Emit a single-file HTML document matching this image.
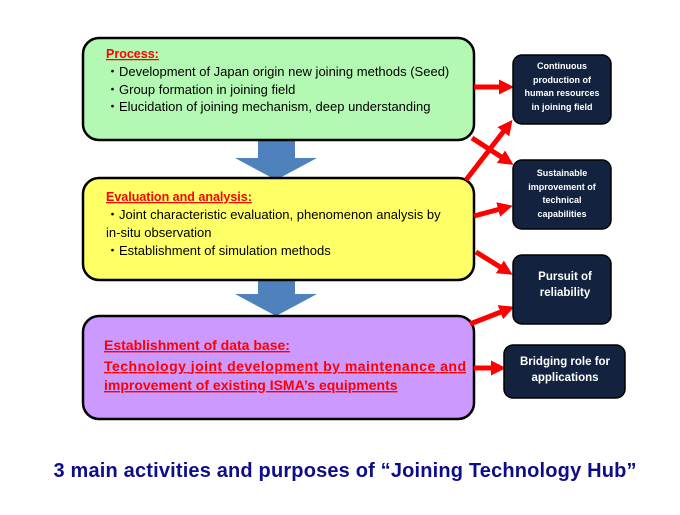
<!DOCTYPE html>
<html><head><meta charset="utf-8"><style>
body{margin:0;background:#fff}
svg text{font-family:"Liberation Sans","DejaVu Sans",sans-serif}
</style></head><body>
<svg width="680" height="510" viewBox="0 0 680 510" xmlns="http://www.w3.org/2000/svg">
<defs>
<marker id="ah" markerWidth="3" markerHeight="3" refX="1.2" refY="1.5" orient="auto" markerUnits="strokeWidth"><path d="M0,0 L3,1.5 L0,3 z" fill="#ff0000"/></marker>
</defs>
<polygon points="258,140 295,140 295,158 317,158 276,180 235,158 258,158" fill="#4f81bd"/>
<polygon points="258,280 295,280 295,294 317,294 276,316 235,294 258,294" fill="#4f81bd"/>
<rect x="83" y="38" width="391" height="102" rx="16" fill="#b3f9b3" stroke="#000" stroke-width="2.5"/>
<rect x="83" y="178" width="391" height="102" rx="16" fill="#ffff66" stroke="#000" stroke-width="2.5"/>
<rect x="83" y="316" width="391" height="103" rx="16" fill="#cc99ff" stroke="#000" stroke-width="2.5"/>
<g font-size="13" fill="#000">
<text x="106" y="58" font-weight="bold" fill="#ff0000" text-decoration="underline" font-size="12.5">Process:</text>
<text x="106" y="76">・Development of Japan origin new joining methods (Seed)</text>
<text x="106" y="94">・Group formation in joining field</text>
<text x="106" y="111">・Elucidation of joining mechanism, deep understanding</text>
<text x="106" y="201" font-weight="bold" fill="#ff0000" text-decoration="underline" font-size="12.5">Evaluation and analysis:</text>
<text x="106" y="219">・Joint characteristic evaluation, phenomenon analysis by</text>
<text x="106" y="237">in-situ observation</text>
<text x="106" y="255">・Establishment of simulation methods</text>
</g>
<g font-size="14" font-weight="bold" fill="#ff0000" text-decoration="underline">
<text x="104" y="350">Establishment of data base:</text>
<text x="104" y="371" textLength="362">Technology joint development by maintenance and</text>
<text x="104" y="390">improvement of existing ISMA’s equipments</text>
</g>
<g stroke="#ff0000" stroke-width="5" marker-end="url(#ah)">
<line x1="474" y1="87" x2="505" y2="87"/>
<line x1="472" y1="138" x2="506" y2="160"/>
<line x1="466" y1="180" x2="507" y2="127"/>
<line x1="474" y1="216" x2="504" y2="208"/>
<line x1="476" y1="252" x2="505" y2="270"/>
<line x1="470" y1="324" x2="506" y2="310"/>
<line x1="474" y1="368" x2="497" y2="368"/>
</g>
<g fill="#13233f" stroke="#000" stroke-width="1.5">
<rect x="513" y="55" width="98" height="69" rx="9"/>
<rect x="513" y="160" width="98" height="69" rx="9"/>
<rect x="513" y="255" width="98" height="69" rx="9"/>
<rect x="504" y="345" width="121" height="53" rx="9"/>
</g>
<g fill="#fff" font-weight="bold" text-anchor="middle">
<g font-size="9">
<text x="562" y="69">Continuous</text>
<text x="562" y="83">production of</text>
<text x="562" y="96">human resources</text>
<text x="562" y="110">in joining field</text>
<text x="562" y="176">Sustainable</text>
<text x="562" y="190">improvement of</text>
<text x="562" y="203">technical</text>
<text x="562" y="217">capabilities</text>
</g>
<g font-size="11.5">
<text x="565" y="280">Pursuit of</text>
<text x="565" y="296">reliability</text>
<text x="565" y="365">Bridging role for</text>
<text x="565" y="381">applications</text>
</g>
</g>
<text x="345" y="477" text-anchor="middle" font-size="20" font-weight="bold" fill="#0d0d8c" textLength="583">3 main activities and purposes of “Joining Technology Hub”</text>
</svg>
</body></html>
